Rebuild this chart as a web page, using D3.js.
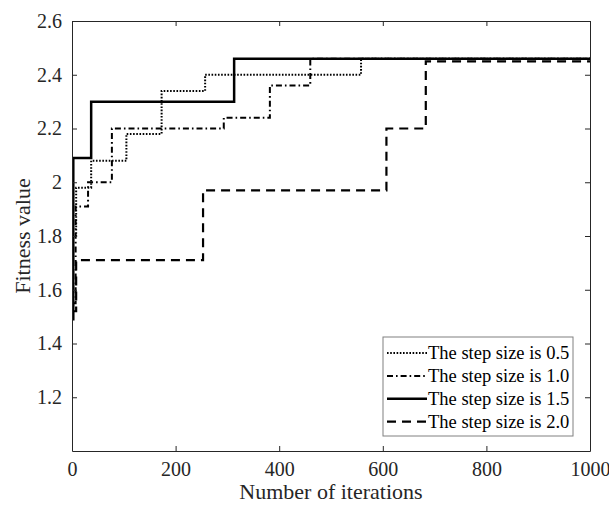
<!DOCTYPE html>
<html>
<head>
<meta charset="utf-8">
<script src="https://cdn.jsdelivr.net/npm/d3@7"></script>
<style>
  body { margin: 0; background: #fff; }
  svg { font-family: "Liberation Serif", "Times New Roman", serif; }
  .axis path, .axis line { stroke: #262626; }
  .axis text { fill: #262626; font-size: 20px; font-family: "Liberation Serif", serif; }
</style>
</head>
<body>
<svg id="chart" width="609" height="506"></svg>
<script>
// step curves: [iteration, fitness] at each jump
const seriesNames = ['The step size is 0.5', 'The step size is 1.0', 'The step size is 1.5', 'The step size is 2.0'];
const step05 = [[0, 1.80], [8, 1.98], [37, 2.08], [105, 2.18], [173, 2.34], [257, 2.40], [558, 2.46], [1000, 2.46]];
const step10 = [[0, 1.55], [7, 1.91], [31, 2.00], [77, 2.20], [293, 2.24], [382, 2.36], [460, 2.46], [1000, 2.46]];
const step15 = [[0, 1.49], [2.5, 2.09], [37, 2.30], [313, 2.46], [1000, 2.46]];
const step20 = [[0, 1.52], [8, 1.71], [253, 1.97], [607, 2.20], [683, 2.45], [1000, 2.45]];
const xTicks = [0, 200, 400, 600, 800, 1000];
const yTicks = [1.2, 1.4, 1.6, 1.8, 2, 2.2, 2.4, 2.6];

const allSeries = [step05, step10, step15, step20];
const dashes = ['1.6,1.6', '6,3,1.6,3', null, '9,6'];
const widths = [2, 2, 2.5, 2.2];

const margin = { top: 21, right: 19, bottom: 55, left: 72 };
const svg = d3.select('#chart');
const width = 609 - margin.left - margin.right;
const height = 506 - margin.top - margin.bottom;
const chart = svg.append('g').attr('transform', `translate(${margin.left},${margin.top})`);

const xScale = d3.scaleLinear().domain([0, 1000]).range([0, width]);
const yScale = d3.scaleLinear().domain([1, 2.6]).range([height, 0]);

// curves
const line = d3.line()
    .x(d => xScale(d[0]))
    .y(d => yScale(d[1]))
    .curve(d3.curveStepAfter);

chart.selectAll('.curve')
    .data(allSeries)
    .join('path')
    .attr('class', 'curve')
    .attr('d', line)
    .attr('fill', 'none')
    .attr('stroke', '#000')
    .attr('stroke-width', (d, i) => widths[i])
    .attr('stroke-dasharray', (d, i) => dashes[i]);

// axes, ticks inside, mirrored on top / right
const tickLen = 5;
chart.append('g')
    .attr('class', 'axis')
    .attr('transform', `translate(0,${height})`)
    .call(d3.axisBottom(xScale).tickValues(xTicks).tickSizeInner(-tickLen).tickSizeOuter(0).tickPadding(11).tickFormat(d3.format('d')))
    .call(g => g.selectAll('text').attr('dy', '0.71em'));
chart.append('g')
    .attr('class', 'axis')
    .call(d3.axisTop(xScale).tickValues(xTicks).tickSizeInner(-tickLen).tickSizeOuter(0).tickFormat(''));
chart.append('g')
    .attr('class', 'axis')
    .call(d3.axisLeft(yScale).tickValues(yTicks).tickSizeInner(-tickLen).tickSizeOuter(0).tickPadding(10).tickFormat(d3.format('')));
chart.append('g')
    .attr('class', 'axis')
    .attr('transform', `translate(${width},0)`)
    .call(d3.axisRight(yScale).tickValues(yTicks).tickSizeInner(-tickLen).tickSizeOuter(0).tickFormat(''));

// axis titles
svg.append('text')
    .attr('x', margin.left + width / 2)
    .attr('y', 499)
    .attr('text-anchor', 'middle')
    .attr('font-size', 22)
    .attr('fill', '#262626')
    .text('Number of iterations');

svg.append('text')
    .attr('transform', `translate(30,${margin.top + height / 2}) rotate(-90)`)
    .attr('text-anchor', 'middle')
    .attr('font-size', 22)
    .attr('fill', '#262626')
    .text('Fitness value');

// legend
const legend = svg.append('g').attr('transform', 'translate(383,337)');
legend.append('rect')
    .attr('width', 190)
    .attr('height', 99)
    .attr('fill', '#fff')
    .attr('stroke', '#808080')
    .attr('stroke-width', 1);

const items = legend.selectAll('.item')
    .data(seriesNames)
    .join('g')
    .attr('class', 'item')
    .attr('transform', (d, i) => `translate(0,${16 + i * 22.9})`);

items.append('line')
    .attr('x1', 4)
    .attr('x2', 44)
    .attr('stroke', '#000')
    .attr('stroke-width', (d, i) => widths[i])
    .attr('stroke-dasharray', (d, i) => dashes[i]);

items.append('text')
    .attr('x', 45)
    .attr('dy', '0.35em')
    .attr('font-size', 18.5)
    .attr('fill', '#000')
    .text(d => d);
</script>
</body>
</html>
